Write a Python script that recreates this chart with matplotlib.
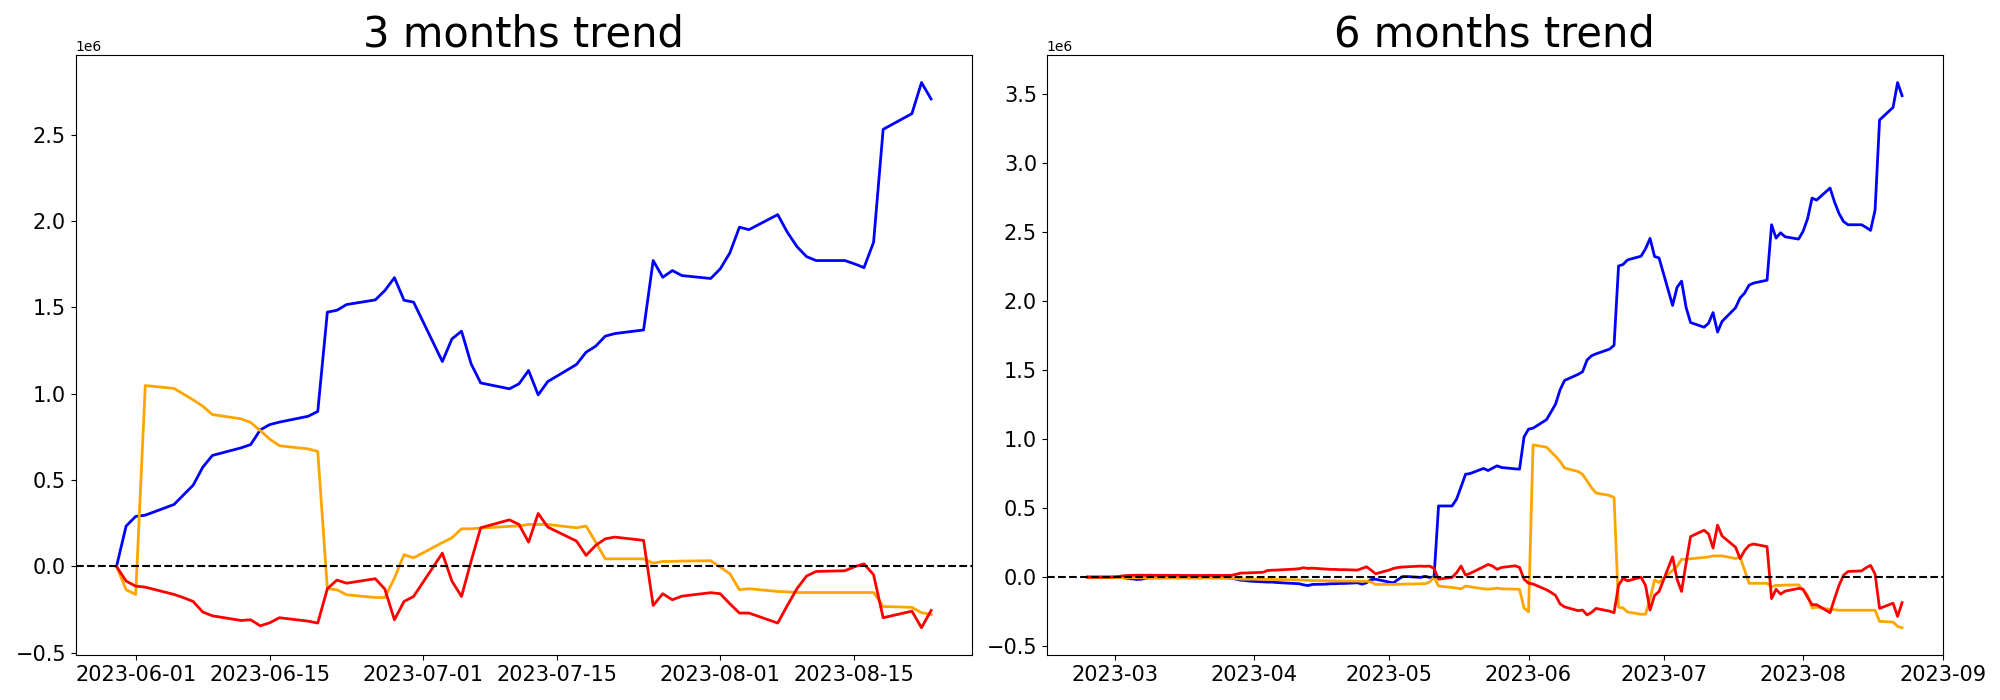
import matplotlib
matplotlib.use("Agg")
import matplotlib.pyplot as plt
import matplotlib.dates as mdates
import numpy as np
import pandas as pd

# === Dates (weekdays) ===
dates_3m = pd.bdate_range("2023-05-30", "2023-08-23")
dates_6m = pd.bdate_range("2023-02-23", "2023-08-23")

# === 3 months trend (values in millions) ===
blue_3m = [0.0, 0.234, 0.29, 0.297, 0.359, 0.415, 0.471, 0.575, 0.643, 0.687,
           0.706, 0.791, 0.822, 0.836, 0.870, 0.898, 1.473, 1.484, 1.517, 1.544,
           1.598, 1.673, 1.542, 1.531, 1.187, 1.318, 1.363, 1.174, 1.063, 1.029,
           1.058, 1.135, 0.994, 1.071, 1.17, 1.241, 1.276, 1.334, 1.349, 1.370,
           1.772, 1.675, 1.714, 1.685, 1.668, 1.724, 1.816, 1.965, 1.951, 2.038,
           1.936, 1.853, 1.795, 1.772, 1.772, 1.753, 1.731, 1.878, 2.532, 2.623,
           2.803, 2.708]
orange_3m = [0.0, -0.135, -0.162, 1.048, 1.031, 0.998, 0.965, 0.928, 0.880, 0.855,
             0.834, 0.787, 0.737, 0.699, 0.681, 0.666, -0.129, -0.135, -0.164, -0.180,
             -0.180, -0.068, 0.068, 0.050, 0.138, 0.166, 0.218, 0.218, 0.222, 0.232,
             0.235, 0.243, 0.243, 0.243, 0.224, 0.234, 0.141, 0.044, 0.044, 0.044,
             0.019, 0.029, 0.029, 0.031, 0.033, -0.004, -0.042, -0.135, -0.129, -0.145,
             -0.147, -0.151, -0.151, -0.151, -0.151, -0.151, -0.151, -0.151, -0.232, -0.237,
             -0.268, -0.278]
red_3m = [0.0, -0.085, -0.114, -0.120, -0.162, -0.181, -0.203, -0.264, -0.286, -0.313,
          -0.309, -0.344, -0.326, -0.297, -0.317, -0.328, -0.129, -0.079, -0.097, -0.071,
          -0.131, -0.309, -0.203, -0.174, 0.077, -0.085, -0.174, 0.03, 0.224, 0.270,
          0.243, 0.141, 0.307, 0.228, 0.147, 0.064, 0.122, 0.160, 0.170, 0.151,
          -0.226, -0.158, -0.193, -0.172, -0.152, -0.158, -0.216, -0.270, -0.270, -0.328,
          -0.226, -0.129, -0.056, -0.029, -0.025, -0.002, 0.015, -0.048, -0.297, -0.259,
          -0.355, -0.255]

# === 6 months trend (values in millions), Feb 23 - May 29 then May 30 - Aug 23 ===
blue_6m_early = [0.0, 0.0, 0.0, 0.0,
                 0.0, -0.002, -0.005,
                 -0.017, -0.015, -0.007, -0.005, -0.005,
                 -0.005, -0.004, -0.005, -0.004, -0.005,
                 -0.005, -0.004, -0.004, -0.005, -0.005,
                 -0.006, -0.015, -0.022, -0.025, -0.029,
                 -0.034, -0.036, -0.036, -0.039, -0.041,
                 -0.046, -0.048, -0.056, -0.061, -0.053,
                 -0.051, -0.048, -0.048, -0.046, -0.046,
                 -0.041, -0.051, -0.041, -0.018, -0.015,
                 -0.036, -0.041, -0.017, 0.004, 0.004,
                 -0.002, 0.006, -0.002, 0.0, 0.516,
                 0.516, 0.565, 0.654, 0.746, 0.751,
                 0.788, 0.773, 0.79, 0.807, 0.795,
                 0.785]
blue_6m_late = [0.783, 1.017, 1.073, 1.080, 1.142, 1.198, 1.254, 1.358, 1.426, 1.470,
                1.489, 1.574, 1.605, 1.619, 1.653, 1.681, 2.256, 2.267, 2.300, 2.327,
                2.381, 2.456, 2.325, 2.314, 1.970, 2.101, 2.146, 1.957, 1.846, 1.812,
                1.841, 1.918, 1.777, 1.854, 1.953, 2.024, 2.059, 2.117, 2.132, 2.153,
                2.555, 2.458, 2.497, 2.468, 2.451, 2.507, 2.599, 2.748, 2.734, 2.821,
                2.719, 2.636, 2.578, 2.555, 2.555, 2.536, 2.514, 2.661, 3.315, 3.406,
                3.586, 3.491]
orange_6m_early = [0.0, -0.002, -0.003, -0.003,
                   -0.003, -0.004, -0.004,
                   -0.005, -0.005, -0.005, -0.005, -0.005,
                   -0.005, -0.005, -0.005, -0.005, -0.005,
                   -0.005, -0.005, -0.005, -0.005, -0.005,
                   -0.006, -0.012, -0.014, -0.015, -0.015,
                   -0.016, -0.017, -0.017, -0.018, -0.018,
                   -0.019, -0.020, -0.022, -0.024, -0.025,
                   -0.026, -0.027, -0.027, -0.028, -0.028,
                   -0.029, -0.029, -0.030, -0.035, -0.053,
                   -0.053, -0.053, -0.052, -0.051, -0.050,
                   -0.049, -0.048, -0.036, 0.0, -0.065,
                   -0.075, -0.080, -0.085, -0.065, -0.070,
                   -0.085, -0.087, -0.085, -0.080, -0.085,
                   -0.087]
orange_6m_late = [-0.089, -0.224, -0.251, 0.959, 0.942, 0.909, 0.876, 0.839, 0.791, 0.766,
                  0.745, 0.698, 0.648, 0.610, 0.592, 0.577, -0.218, -0.224, -0.253, -0.269,
                  -0.269, -0.157, -0.021, -0.039, 0.049, 0.077, 0.129, 0.129, 0.133, 0.143,
                  0.146, 0.154, 0.154, 0.154, 0.135, 0.145, 0.052, -0.045, -0.045, -0.045,
                  -0.070, -0.060, -0.060, -0.058, -0.056, -0.093, -0.131, -0.224, -0.218, -0.234,
                  -0.236, -0.240, -0.240, -0.240, -0.240, -0.240, -0.240, -0.240, -0.321, -0.326,
                  -0.357, -0.367]
red_6m_early = [0.0, 0.0, 0.0, 0.0,
                0.002, 0.005, 0.010,
                0.014, 0.014, 0.013, 0.014, 0.013,
                0.013, 0.012, 0.013, 0.012, 0.012,
                0.012, 0.012, 0.013, 0.012, 0.012,
                0.013, 0.020, 0.029, 0.030, 0.031,
                0.035, 0.048, 0.050, 0.051, 0.053,
                0.058, 0.061, 0.068, 0.063, 0.065,
                0.058, 0.056, 0.056, 0.054, 0.054,
                0.051, 0.063, 0.075, 0.051, 0.024,
                0.051, 0.063, 0.070, 0.073, 0.075,
                0.080, 0.078, 0.080, 0.063, -0.015,
                -0.002, 0.032, 0.080, 0.015, 0.027,
                0.075, 0.092, 0.080, 0.056, 0.070,
                0.082]
red_6m_late = [0.070, -0.015, -0.044, -0.050, -0.092, -0.111, -0.133, -0.194, -0.216, -0.243,
               -0.239, -0.274, -0.256, -0.227, -0.247, -0.258, -0.059, -0.009, -0.027, -0.001,
               -0.061, -0.239, -0.133, -0.104, 0.147, -0.015, -0.104, 0.100, 0.294, 0.340,
               0.313, 0.211, 0.377, 0.298, 0.217, 0.134, 0.192, 0.230, 0.240, 0.221,
               -0.156, -0.088, -0.123, -0.102, -0.082, -0.088, -0.146, -0.200, -0.200, -0.258,
               -0.156, -0.059, 0.014, 0.041, 0.045, 0.068, 0.085, 0.022, -0.227, -0.189,
               -0.285, -0.185]

blue_6m = blue_6m_early + blue_6m_late
orange_6m = orange_6m_early + orange_6m_late
red_6m = red_6m_early + red_6m_late

UNIT = 1e6
colors = ["blue", "orange", "red"]

fig, axes = plt.subplots(1, 2, figsize=(20, 7), dpi=100)
fig.subplots_adjust(left=0.0379, right=0.9714, top=0.921, bottom=0.0643, wspace=0.0837)

panels = [
    (axes[0], dates_3m, [blue_3m, orange_3m, red_3m], "3 months trend"),
    (axes[1], dates_6m, [blue_6m, orange_6m, red_6m], "6 months trend"),
]

for ax, dates, series, title in panels:
    for vals, c in zip(series, colors):
        ax.plot(dates, np.array(vals) * UNIT, color=c, linewidth=2)
    ax.axhline(0, color="black", linestyle="--", linewidth=1.5)
    ax.set_title(title, fontsize=30)
    ax.tick_params(labelsize=15)

# === date ticks
axes[0].xaxis.set_major_locator(mdates.DayLocator(bymonthday=[1, 15]))
axes[0].xaxis.set_major_formatter(mdates.DateFormatter("%Y-%m-%d"))
axes[1].xaxis.set_major_locator(mdates.MonthLocator())
axes[1].xaxis.set_major_formatter(mdates.DateFormatter("%Y-%m"))

fig.savefig("out.png")
